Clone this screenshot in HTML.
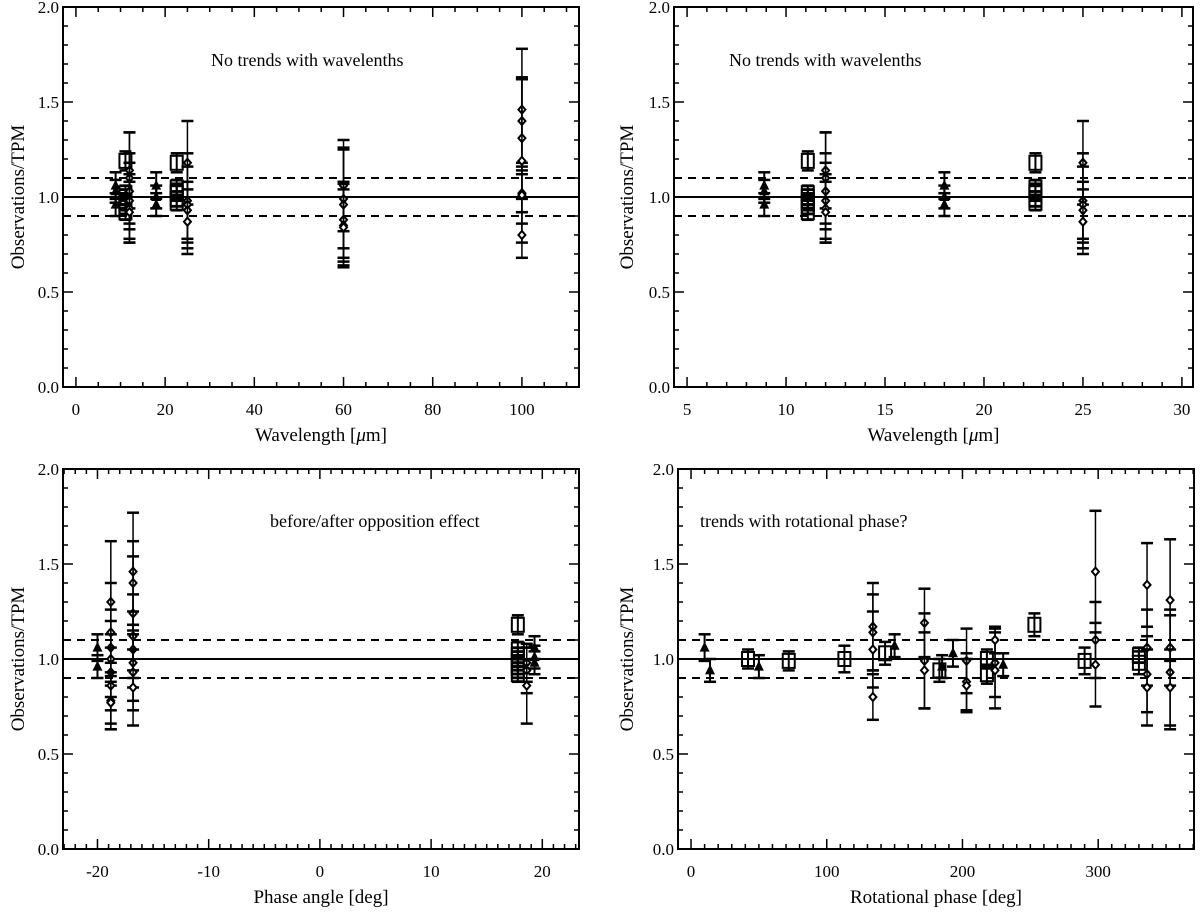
<!DOCTYPE html>
<html><head><meta charset="utf-8">
<style>
html,body{margin:0;padding:0;background:#fff;}
svg{display:block;}
text{font-family:"Liberation Serif","DejaVu Serif",serif;fill:#000;}
</style></head>
<body>
<svg id="fig" width="1200" height="914" viewBox="0 0 1200 914" xmlns="http://www.w3.org/2000/svg"></svg>
<script>
// ---- Panel A: wavelength (full range) ----
const aX = [8.9,8.9,8.9,18,18,18, 11.1,11.1,11.1,11.1,11.1,11.1,11.1, 22.6,22.6,22.6,22.6,22.6,22.6, 12,12,12,12,12,12, 25,25,25,25,25, 60,60,60,60,60,60, 100,100,100,100,100,100,100];
const aY = [1.06,0.96,1.03,1.06,0.96,1.0, 1.19,1.0,0.97,0.95,0.92,1.02,0.98, 1.18,1.05,1.02,0.99,0.97,1.03, 1.14,1.10,1.03,0.98,0.94,0.92, 1.18,0.98,0.96,0.93,0.87, 1.06,0.99,0.96,0.88,0.85,0.84, 1.46,1.40,1.31,1.19,1.02,1.01,0.80];
const aE = [0.07,0.06,0.06,0.07,0.06,0.06, 0.05,0.04,0.04,0.04,0.04,0.04,0.04, 0.05,0.04,0.04,0.04,0.04,0.04, 0.20,0.24,0.20,0.20,0.18,0.16, 0.22,0.25,0.20,0.15,0.17, 0.24,0.26,0.30,0.20,0.22,0.20, 0.32,0.22,0.32,0.43,0.10,0.15,0.12];
const aK = ['t','t','t','t','t','t','s','s','s','s','s','s','s','s','s','s','s','s','s','d','d','d','d','d','d','d','d','d','d','d','d','d','d','d','d','d','d','d','d','d','d','d','d'];
// ---- Panel C: phase angle ----
const cX = [-20,-20, -18.8,-18.8,-18.8,-18.8,-18.8,-18.8,-18.8,-18.8, -16.8,-16.8,-16.8,-16.8,-16.8,-16.8,-16.8,-16.8, 17.8,17.8,17.8,17.8,17.8,17.8,17.8,17.8, 18.6,18.6,18.6, 19.3,19.3,19.3];
const cY = [1.06,0.96, 1.30,1.14,1.06,1.00,0.93,0.86,0.78,0.77, 1.46,1.40,1.24,1.12,1.05,0.98,0.93,0.85, 1.18,1.05,1.02,1.00,0.98,0.96,0.94,0.92, 0.98,0.94,0.86, 1.06,1.01,0.98];
const cE = [0.07,0.06, 0.32,0.26,0.20,0.20,0.20,0.20,0.15,0.14, 0.31,0.22,0.30,0.22,0.20,0.20,0.20,0.20, 0.05,0.04,0.04,0.04,0.04,0.04,0.04,0.04, 0.10,0.12,0.20, 0.06,0.06,0.06];
const cK = ['t','t','d','d','d','d','d','d','d','d','d','d','d','d','d','d','d','d','s','s','s','s','s','s','s','s','d','d','d','t','t','t'];
// ---- Panel D: rotational phase ----
const dX = [10,14,42,50,72,113,134,134,134,134,143,150,172,172,172,183,185,193,203,203,203,218,218,224,224,224,230,253,290,298,298,298,330,330,336,336,336,336,353,353,353,353];
const dY = [1.06,0.94,1.00,0.96,0.99,1.00,1.17,1.14,1.05,0.80,1.03,1.07,1.19,0.99,0.94,0.94,0.96,1.03,0.99,0.88,0.86,1.00,0.92,0.98,0.94,1.10,0.97,1.18,0.99,1.46,1.10,0.97,0.98,1.02,1.39,1.06,0.92,0.85,1.31,1.06,0.93,0.85];
const dE = [0.07,0.06,0.05,0.06,0.05,0.07,0.23,0.20,0.20,0.12,0.06,0.06,0.18,0.25,0.20,0.06,0.06,0.07,0.17,0.15,0.14,0.05,0.05,0.18,0.20,0.07,0.06,0.06,0.07,0.32,0.20,0.22,0.06,0.04,0.22,0.20,0.20,0.20,0.32,0.20,0.30,0.20];
const dK = ['t','t','s','t','s','s','d','d','d','d','s','t','d','d','d','s','t','t','d','d','d','s','s','d','d','d','t','s','s','d','d','d','s','s','d','d','d','d','d','d','d','d'];

const yTicks = ['0.0','0.5','1.0','1.5','2.0'];
const aTicks = ['0','20','40','60','80','100'];
const bTicks = ['5','10','15','20','25','30'];
const cTicks = ['-20','-10','0','10','20'];
const dTicks = ['0','100','200','300'];

const NS='http://www.w3.org/2000/svg';
const svg=document.getElementById('fig');
function el(tag,attrs,parent){const e=document.createElementNS(NS,tag);for(const k in attrs)e.setAttribute(k,attrs[k]);(parent||svg).appendChild(e);return e;}

const panels=[
 {id:'a',L:63,R:579,T:7,B:387,x0:-2.9,x1:112.8,minor:5,ticks:aTicks,X:aX,Y:aY,E:aE,K:aK,xtu:true,note:'No trends with wavelenths',nx:211,ny:66,yl:18},
 {id:'b',L:674,R:1193,T:7,B:387,x0:4.34,x1:30.56,minor:1,ticks:bTicks,X:aX,Y:aY,E:aE,K:aK,xtu:true,note:'No trends with wavelenths',nx:729,ny:66,yl:627},
 {id:'c',L:63,R:579,T:469,B:849,x0:-23.1,x1:23.3,minor:1,ticks:cTicks,X:cX,Y:cY,E:cE,K:cK,xt:'Phase angle [deg]',note:'before/after opposition effect',nx:270,ny:527,yl:18},
 {id:'d',L:678,R:1194,T:469,B:849,x0:-9.6,x1:370.6,minor:10,ticks:dTicks,X:dX,Y:dY,E:dE,K:dK,xt:'Rotational phase [deg]',note:'trends with rotational phase?',nx:700,ny:527,yl:627}
];

panels.forEach(p=>{
 const g=el('g',{});
 
 
 const sx=v=>p.L+(v-p.x0)/(p.x1-p.x0)*(p.R-p.L);
 const sy=v=>p.B-v/2*(p.B-p.T);
 for(let i=0;i<=20;i++){
  const v=i/10, y=sy(v), len=(i%5===0)?10:5;
  el('line',{x1:p.L,x2:p.L+len,y1:y,y2:y,stroke:'#000','stroke-width':1.5},g);
  el('line',{x1:p.R,x2:p.R-len,y1:y,y2:y,stroke:'#000','stroke-width':1.5},g);
 }
 yTicks.forEach((t,i)=>{
  const tx=el('text',{x:p.L-4,y:sy(i*0.5)+6,'text-anchor':'end','font-size':17},g);
  
  
  tx.textContent=t;
 });
 const majStep=parseFloat(p.ticks[1])-parseFloat(p.ticks[0]);
 const start=Math.ceil(p.x0/p.minor)*p.minor;
 for(let v=start; v<=p.x1+1e-9; v+=p.minor){
  const vv=Math.round(v*1000)/1000;
  const maj=Math.abs(vv/majStep-Math.round(vv/majStep))<1e-6;
  const x=sx(vv), len=maj?10:5;
  el('line',{x1:x,x2:x,y1:p.B,y2:p.B-len,stroke:'#000','stroke-width':1.5},g);
  el('line',{x1:x,x2:x,y1:p.T,y2:p.T+len,stroke:'#000','stroke-width':1.5},g);
 }
 p.ticks.forEach(t=>{
  const tx=el('text',{x:sx(parseFloat(t)),y:p.B+28,'text-anchor':'middle','font-size':17},g);
  
  
  tx.textContent=t;
 });
 const box=el('rect',{x:p.L,y:p.T,width:p.R-p.L,height:p.B-p.T,fill:'none',stroke:'#000','stroke-width':2},g);
 
 
 const l1=el('line',{x1:p.L,x2:p.R,y1:sy(1),y2:sy(1),stroke:'#000','stroke-width':2},g);
 
 
 [1.1,0.9].forEach(v=>{
  const l=el('line',{x1:p.L,x2:p.R,y1:sy(v),y2:sy(v),stroke:'#000','stroke-width':2,'stroke-dasharray':'8,6'},g);
  
  
 });
 const xt=el('text',{x:(p.L+p.R)/2,y:p.B+54,'text-anchor':'middle','font-size':19},g);
 
 
 if(p.xtu){xt.textContent='Wavelength [';const ts=el('tspan',{'font-style':'italic'},xt);ts.textContent='μ';const t2=el('tspan',{},xt);t2.textContent='m]';}
 else xt.textContent=p.xt;
 const cy=(p.T+p.B)/2;
 const yt=el('text',{x:p.yl,y:cy,'text-anchor':'middle','font-size':19,transform:'rotate(-90 '+p.yl+' '+cy+')',dy:6},g);
 
 
 yt.textContent='Observations/TPM';
 const nt=el('text',{x:p.nx,y:p.ny,'font-size':18},g);
 
 
 nt.textContent=p.note;
 for(let i=0;i<p.X.length;i++){
  if(p.X[i]<p.x0||p.X[i]>p.x1) continue;
  const x=sx(p.X[i]), y=sy(p.Y[i]), yh=sy(p.Y[i]+p.E[i]), yl=sy(p.Y[i]-p.E[i]);
  const k=p.K[i];
  const pg=el('g',{},g);
  
  
  const sw=k==='d'?1.5:2;
  el('line',{x1:x,x2:x,y1:yh,y2:yl,stroke:'#000','stroke-width':sw},pg);
  el('line',{x1:x-6,x2:x+6,y1:yh,y2:yh,stroke:'#000','stroke-width':2.5},pg);
  el('line',{x1:x-6,x2:x+6,y1:yl,y2:yl,stroke:'#000','stroke-width':2.5},pg);
  if(k==='t') el('polygon',{points:`${x},${y-6} ${x-5},${y+4} ${x+5},${y+4}`,fill:'#000'},pg);
  else if(k==='s') el('rect',{x:x-6,y:y-7,width:12,height:14,fill:'none',stroke:'#000','stroke-width':2},pg);
  else el('polygon',{points:`${x},${y-4} ${x+3.5},${y} ${x},${y+4} ${x-3.5},${y}`,fill:'#fff',stroke:'#000','stroke-width':2},pg);
 }
});
</script>
</body></html>
